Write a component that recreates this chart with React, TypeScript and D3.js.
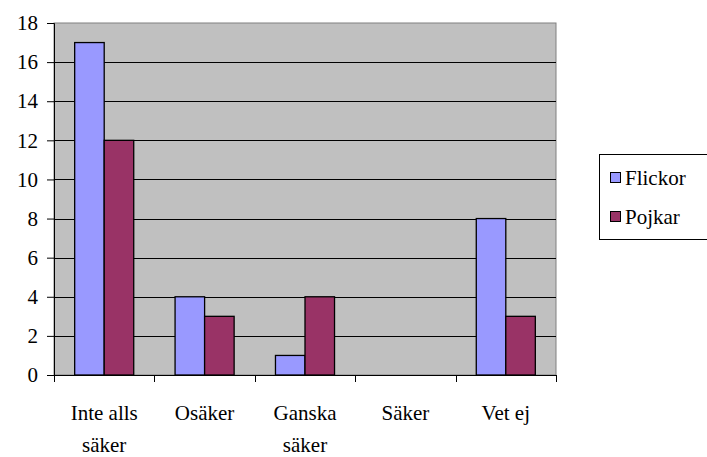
import React, { useEffect, useRef } from 'react';
import * as d3 from 'd3';

const categories = [['Inte alls', 'säker'], ['Osäker'], ['Ganska', 'säker'], ['Säker'], ['Vet ej']];
const flickor = [17, 4, 1, 0, 8];
const pojkar = [12, 3, 4, 0, 3];
const seriesNames = ['Flickor', 'Pojkar'];
const seriesColors = ['#9999FF', '#993366'];
const yTicks = [0, 2, 4, 6, 8, 10, 12, 14, 16, 18];

export default function App() {
  const ref = useRef<SVGSVGElement>(null);

  useEffect(() => {
    const svg = d3.select(ref.current);
    svg.selectAll('*').remove();
    const left = 54, right = 556, top = 23, bottom = 375;
    const font = "'Liberation Serif', Tinos, 'DejaVu Serif', 'Times New Roman', serif";

    const x = d3.scaleBand<number>().domain(d3.range(categories.length)).range([left, right]);
    const inner = d3.scaleBand<number>().domain([0, 1]).range([0, x.bandwidth()]).paddingOuter(0.7).paddingInner(0);
    const y = d3.scaleLinear().domain([0, 18]).range([bottom, top]);

    svg.append('rect')
      .attr('x', left).attr('y', top)
      .attr('width', right - left).attr('height', bottom - top)
      .attr('fill', '#C0C0C0').attr('stroke', '#808080').attr('stroke-width', 1);

    svg.append('g').selectAll('line')
      .data(yTicks.filter(t => t > 0 && t < 18))
      .enter().append('line')
      .attr('x1', left).attr('x2', right)
      .attr('y1', d => Math.round(y(d)) + 0.5).attr('y2', d => Math.round(y(d)) + 0.5)
      .attr('stroke', '#000').attr('stroke-width', 1);

    const data = [flickor, pojkar];
    data.forEach((vals, s) => {
      svg.append('g').selectAll('rect')
        .data(vals)
        .enter().append('rect')
        .attr('x', (d, i) => (x(i) as number) + (inner(s) as number))
        .attr('y', d => y(d))
        .attr('width', inner.bandwidth())
        .attr('height', d => bottom - y(d))
        .attr('fill', seriesColors[s])
        .attr('stroke', d => (d > 0 ? '#000' : 'none'))
        .attr('stroke-width', 1.3);
    });

    const yAxis = svg.append('g')
      .attr('transform', `translate(${left},0)`)
      .call(d3.axisLeft(y).tickValues(yTicks).tickSize(7).tickPadding(9).tickFormat(d3.format('d')));
    yAxis.attr('font-family', null).attr('font-size', null);
    yAxis.select('.domain').attr('stroke', '#000');
    yAxis.selectAll('text').style('font-family', font).style('font-size', '21px').attr('fill', '#000');

    const xAxis = svg.append('g').attr('transform', `translate(0,${bottom})`);
    xAxis.append('line').attr('x1', left).attr('x2', right).attr('y1', 0.5).attr('y2', 0.5).attr('stroke', '#000');
    xAxis.selectAll('line.tick')
      .data(d3.range(categories.length + 1))
      .enter().append('line')
      .attr('class', 'tick')
      .attr('x1', d => Math.round(d === categories.length ? right : (x(d) as number)) + 0.5)
      .attr('x2', d => Math.round(d === categories.length ? right : (x(d) as number)) + 0.5)
      .attr('y1', 0).attr('y2', 7).attr('stroke', '#000');

    const labels = xAxis.selectAll('text.cat')
      .data(categories)
      .enter().append('text')
      .attr('class', 'cat')
      .attr('text-anchor', 'middle')
      .style('font-family', font).style('font-size', '21px').attr('fill', '#000')
      .attr('x', (d, i) => (x(i) as number) + x.bandwidth() / 2);
    labels.each(function (d) {
      d3.select(this).selectAll('tspan')
        .data(d).enter().append('tspan')
        .attr('x', d3.select(this).attr('x'))
        .attr('y', (t, j) => 45 + j * 32)
        .text(t => t);
    });

    const legend = svg.append('g');
    legend.append('rect')
      .attr('x', 599.5).attr('y', 154.5).attr('width', 120).attr('height', 85)
      .attr('fill', '#fff').attr('stroke', '#000');
    seriesNames.forEach((name, i) => {
      const cy = 178 + i * 39;
      legend.append('rect')
        .attr('x', 610.5).attr('y', cy - 5.5).attr('width', 10).attr('height', 10)
        .attr('fill', seriesColors[i]).attr('stroke', '#000');
      legend.append('text')
        .attr('x', 625).attr('y', cy + 7)
        .style('font-family', font).style('font-size', '21px').attr('fill', '#000')
        .text(name);
    });
  }, []);

  return (
    <svg ref={ref} width={707} height={457} style={{ position: 'absolute', left: 0, top: 0, background: '#fff' }} />
  );
}
